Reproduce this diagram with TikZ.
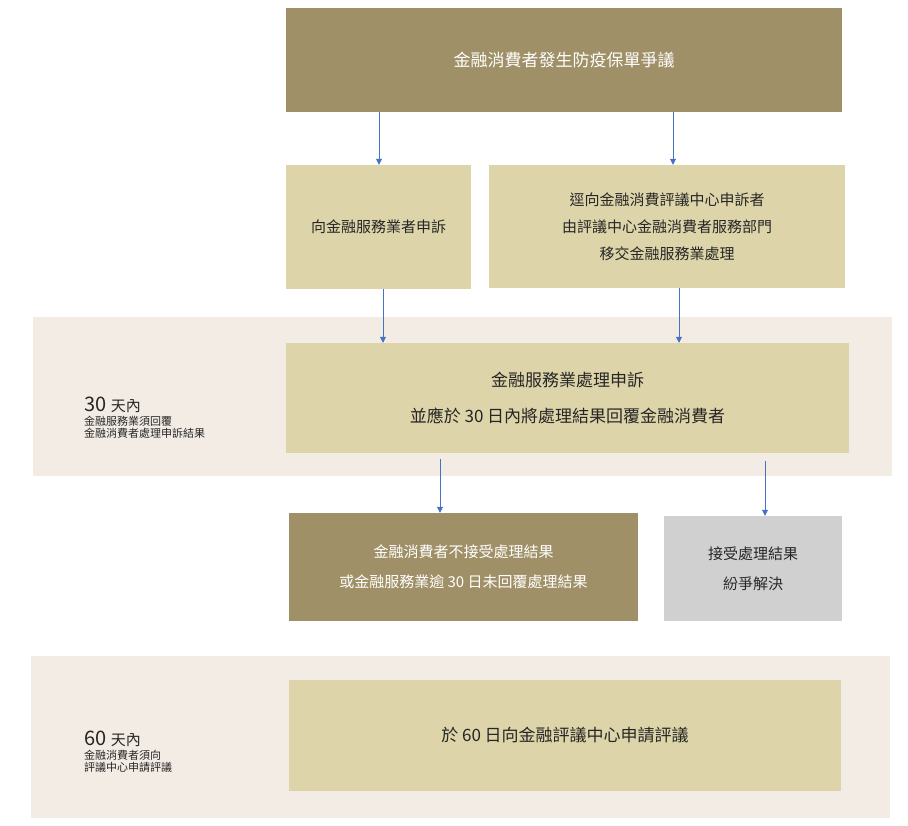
\documentclass[tikz,border=0pt]{standalone}
\usepackage{fontspec}
\setmainfont{Noto Sans CJK TC}
\usetikzlibrary{arrows.meta}
\definecolor{brn}{HTML}{A09067}
\definecolor{bge}{HTML}{DDD4A9}
\definecolor{band}{HTML}{F2ECE5}
\definecolor{gry}{HTML}{D0D0D0}
\definecolor{arr}{HTML}{4472C4}
\tikzset{
 bx/.style={inner sep=0, align=center, font=\fontsize{15}{27}\selectfont, text=black!85},
 arrw/.style={draw=arr, line width=0.8pt, -{Triangle[length=6pt,width=6pt]}},
}
\newcommand{\bxat}[7]{\node[bx,fill=#5,text=#6,minimum width=#3pt-#1pt,minimum height=#4pt-#2pt] (#7) at ({(#1+#3)/2},{(#2+#4)/2}) {};}
\begin{document}
\begin{tikzpicture}[x=1pt,y=-1pt]
\useasboundingbox (0,0) rectangle (908,825);
\fill[band] (33,317) rectangle (892,476);
\fill[band] (31,656) rectangle (890,818);
\node[bx,fill=brn,text=white,minimum width=556pt,minimum height=104pt,font=\fontsize{17}{20}\selectfont] (top) at (564,60) {金融消費者發生防疫保單爭議};
\node[bx,fill=bge,minimum width=185pt,minimum height=124pt] (l) at (378.5,227) {向金融服務業者申訴};
\node[bx,fill=bge,minimum width=356pt,minimum height=123pt] (r) at (667,226.5) {逕向金融消費評議中心申訴者\\由評議中心金融消費者服務部門\\移交金融服務業處理};
\node[bx,fill=bge,minimum width=563pt,minimum height=110pt,font=\fontsize{17}{36}\selectfont] (m) at (567.5,398) {金融服務業處理申訴\\並應於 30 日內將處理結果回覆金融消費者};
\node[bx,fill=brn,text=white,minimum width=349pt,minimum height=108pt,font=\fontsize{15}{30}\selectfont] (b) at (463.5,567) {金融消費者不接受處理結果\\或金融服務業逾 30 日未回覆處理結果};
\node[bx,fill=gry,minimum width=178pt,minimum height=105pt,font=\fontsize{15}{30}\selectfont] (g) at (753,568.5) {接受處理結果\\紛爭解決};
\node[bx,fill=bge,minimum width=552pt,minimum height=111pt,font=\fontsize{17}{20}\selectfont] (f) at (565,735.5) {於 60 日向金融評議中心申請評議};
\node[anchor=west,inner sep=0,align=left,text=black!85] (t1) at (84,418) {{\fontsize{20}{24}\selectfont 30 \fontsize{15}{24}\selectfont 天內}\\[2pt]\fontsize{11}{21}\selectfont 金融服務業須回覆\\\fontsize{11}{21}\selectfont 金融消費者處理申訴結果};
\node[anchor=west,inner sep=0,align=left,text=black!85] (t2) at (84,752) {{\fontsize{20}{24}\selectfont 60 \fontsize{15}{24}\selectfont 天內}\\[2pt]\fontsize{11}{21}\selectfont 金融消費者須向\\\fontsize{11}{21}\selectfont 評議中心申請評議};
\draw[arrw] (top.south -| 379,0) -- (l.north -| 379,0);
\draw[arrw] (top.south -| 673,0) -- (r.north -| 673,0);
\draw[arrw] (l.south -| 383,0) -- (m.north -| 383,0);
\draw[arrw] (r.south -| 679,0) -- (m.north -| 679,0);
\draw[arrw] ([yshift=-6pt]m.south -| 440,0) -- (b.north -| 440,0);
\draw[arrw] ([yshift=-8pt]m.south -| 765,0) -- (g.north -| 765,0);
\end{tikzpicture}
\end{document}
